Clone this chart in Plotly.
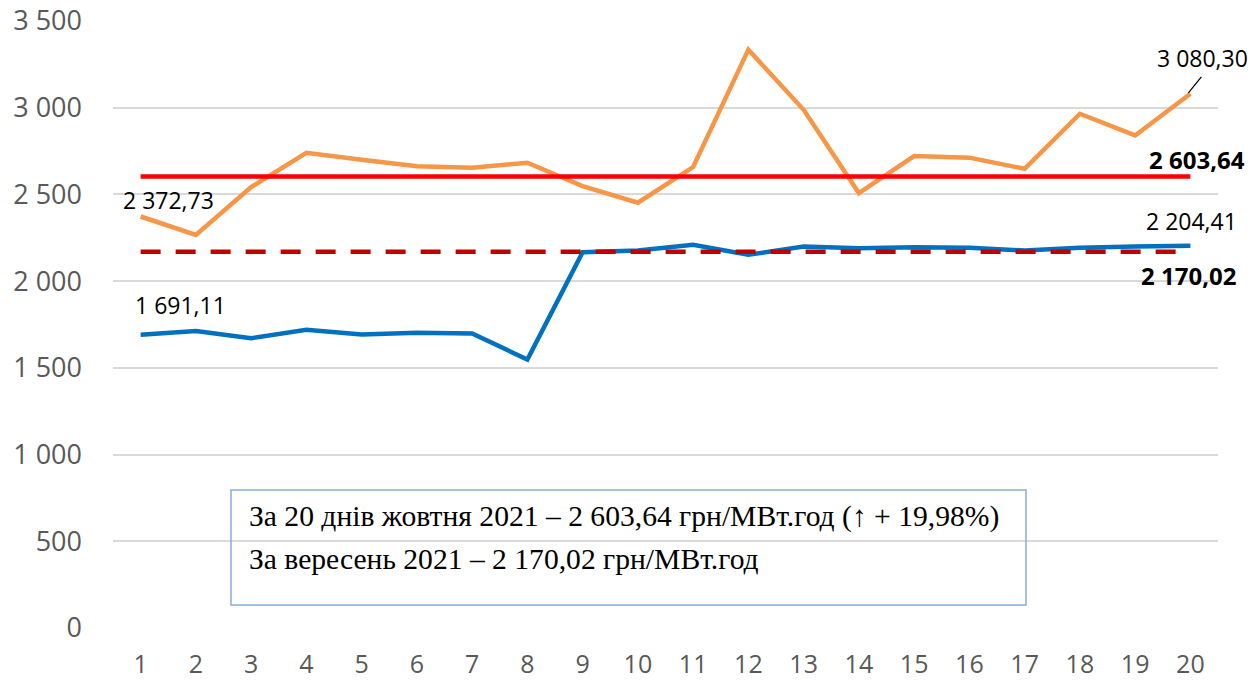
import plotly.graph_objects as go

days = list(range(1, 21))
october_2021 = [2372.73, 2267, 2542, 2740, 2700, 2663, 2654, 2683, 2548, 2452,
                2658, 3335, 2988, 2508, 2721, 2712, 2648, 2965, 2840, 3080.30]
september_2021 = [1691.11, 1712, 1671, 1719, 1692, 1702, 1698, 1548, 2167, 2177,
                  2210, 2152, 2200, 2190, 2196, 2192, 2177, 2192, 2200, 2204.41]
october_avg = 2603.64
september_avg = 2170.02
y_ticks = [0, 500, 1000, 1500, 2000, 2500, 3000, 3500]
y_tick_labels = ["0", "500", "1 000", "1 500", "2 000", "2 500", "3 000", "3 500"]
box_lines = ["За 20 днів жовтня 2021 – 2 603,64 грн/МВт.год (↑ + 19,98%)",
             "За вересень 2021 – 2 170,02 грн/МВт.год"]

oct_avg_line = [october_avg] * len(days)
sep_avg_line = [september_avg] * len(days)

L, R, T, B = 113, 33, 21, 55
PH = 683 - T - B
PW = 1251 - L - R


def px_x(p):
    return (p - L) / PW


def px_y(p):
    return (683 - B - p) / PH


fig = go.Figure()
fig.add_trace(go.Scatter(x=days, y=october_2021, mode="lines", name="Жовтень 2021",
                         line=dict(color="#F79646", width=4.5)))
fig.add_trace(go.Scatter(x=days, y=september_2021, mode="lines", name="Вересень 2021",
                         line=dict(color="#0070C0", width=4.5)))
fig.add_trace(go.Scatter(x=days, y=oct_avg_line, mode="lines", name="Середнє жовтень",
                         line=dict(color="#FF0000", width=4.5)))
fig.add_trace(go.Scatter(x=days, y=sep_avg_line, mode="lines", name="Середнє вересень",
                         line=dict(color="#C00000", width=4.5, dash="20px,15px")))

lab_font = dict(family="Open Sans, sans-serif", size=23, color="#000000")
bold_font = dict(family="Open Sans, sans-serif", size=24, color="#000000")


def fmt(v):
    return f"{v:,.2f}".replace(",", " ").replace(".", ",")


anns = [
    dict(x=days[0], y=october_2021[0], text=fmt(october_2021[0]), xshift=28, yshift=17, font=lab_font),
    dict(x=days[0], y=september_2021[0], text=fmt(september_2021[0]), xshift=40, yshift=30, font=lab_font),
    dict(x=days[-1], y=october_2021[-1], text=fmt(october_2021[-1]), xshift=12, yshift=36, font=lab_font),
    dict(x=days[-1], y=september_2021[-1], text=fmt(september_2021[-1]), xshift=1, yshift=25, font=lab_font),
    dict(x=days[-1], y=october_avg, text="<b>" + fmt(october_avg) + "</b>", xshift=7, yshift=17, font=bold_font),
    dict(x=days[-1], y=september_avg, text="<b>" + fmt(september_avg) + "</b>", xshift=-2, yshift=-24, font=bold_font),
]
annotations = []
for a in anns:
    a.update(xref="x", yref="y", showarrow=False, xanchor="center", yanchor="middle")
    annotations.append(a)

box_font = dict(family="Liberation Serif, Times New Roman, serif", size=29.6, color="#000000")
for line_text, py in zip(box_lines, [516, 559]):
    annotations.append(dict(xref="paper", yref="paper", x=px_x(247), y=px_y(py),
                            xanchor="left", yanchor="middle", align="left", showarrow=False,
                            text=line_text, font=box_font))

shapes = [
    dict(type="rect", xref="paper", yref="paper",
         x0=px_x(231), x1=px_x(1026), y0=px_y(605), y1=px_y(490),
         line=dict(color="#8FAADC", width=1.5), fillcolor="rgba(0,0,0,0)", layer="above"),
    # leader line from last October point to its label
    dict(type="line", xref="x", yref="y", xsizemode="pixel", ysizemode="pixel",
         xanchor=days[-1], yanchor=october_2021[-1],
         x0=-2, y0=1, x1=11, y1=17,
         line=dict(color="#000000", width=1.3), layer="above"),
]

fig.update_layout(
    width=1251, height=683,
    margin=dict(l=L, r=R, t=T, b=B, autoexpand=False),
    paper_bgcolor="white", plot_bgcolor="white",
    showlegend=False,
    annotations=annotations,
    shapes=shapes,
    xaxis=dict(range=[0.5, 20.5], tickmode="array", tickvals=days, ticktext=[str(d) for d in days],
               showgrid=False, showline=False, zeroline=False, automargin=False,
               tickfont=dict(family="Open Sans, sans-serif", size=25, color="#595959"),
               ticks="", ticklabelstandoff=19),
    yaxis=dict(range=[0, 3500], tickvals=y_ticks, ticktext=y_tick_labels,
               showgrid=True, gridcolor="#D9D9D9", gridwidth=1.5, zeroline=False, showline=False,
               automargin=False,
               tickfont=dict(family="Open Sans, sans-serif", size=27, color="#595959"),
               ticks="", ticklabelstandoff=30),
)

fig.write_html("out.html", config={"displayModeBar": False},
               post_script="document.body.style.margin='0';document.body.style.overflow='hidden';")
